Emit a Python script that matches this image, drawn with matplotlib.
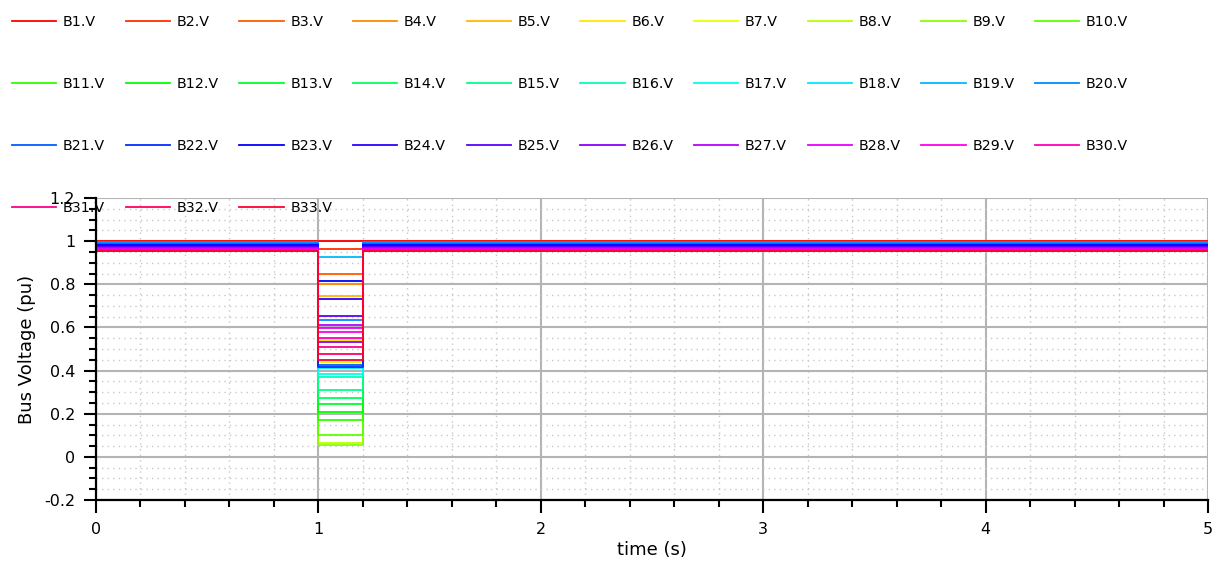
"""Bus voltages of the 33-bus feeder during a short fault (t = 1.0 .. 1.2 s)."""

import colorsys
import numpy as np
from matplotlib import pyplot as plt
from matplotlib.ticker import MultipleLocator, FormatStrFormatter

BUSES = [f"B{i}.V" for i in range(1, 34)]

# switching instants of the fault
T_START = 0.0
T_FAULT_ON = 1.0
T_FAULT_OFF = 1.2
T_END = 5.0

# steady-state voltage of each bus (pu), before and after the fault
V_PRE = [1.000, 0.998, 0.992, 0.988, 0.985, 0.975, 0.973, 0.970, 0.967, 0.964,
         0.963, 0.962, 0.960, 0.959, 0.958, 0.957, 0.956, 0.955, 0.997, 0.995,
         0.986, 0.984, 0.981, 0.978, 0.974, 0.970, 0.968, 0.962, 0.960, 0.958,
         0.956, 0.955, 0.953]

# voltage of each bus while the fault is applied (pu)
V_FAULT = [1.000, 0.963, 0.850, 0.802, 0.745, 0.540, 0.440, 0.065, 0.055, 0.102,
           0.169, 0.208, 0.246, 0.273, 0.308, 0.372, 0.385, 0.412, 0.927, 0.633,
           0.425, 0.418, 0.816, 0.730, 0.653, 0.533, 0.609, 0.599, 0.578, 0.552,
           0.509, 0.478, 0.447]

FONT = "DejaVu Sans"
GRID_MAJOR = "#b4b4b4"
GRID_MINOR = "#c8c8c8"


def bus_colors(n):
    """Hue wheel from red round to rose, one colour per bus."""
    return [colorsys.hsv_to_rgb(i / n, 1.0, 1.0) for i in range(n)]


def main():
    plt.rcParams["font.family"] = FONT
    fig = plt.figure(figsize=(12.17, 5.65), dpi=100)
    ax = fig.add_axes([96 / 1217, 1 - 500 / 565, 1112 / 1217, 302 / 565])

    t = np.array([T_START, T_FAULT_ON, T_FAULT_ON, T_FAULT_OFF, T_FAULT_OFF, T_END])
    colors = bus_colors(len(BUSES))
    handles = []
    for name, pre, flt, col in zip(BUSES, V_PRE, V_FAULT, colors):
        v = np.array([pre, pre, flt, flt, pre, pre])
        (h,) = ax.plot(t, v, color=col, lw=1.3, label=name)
        handles.append(h)

    ax.set_xlim(0, 5)
    ax.set_ylim(-0.2, 1.2)
    ax.xaxis.set_major_locator(MultipleLocator(1))
    ax.xaxis.set_minor_locator(MultipleLocator(0.2))
    ax.yaxis.set_major_locator(MultipleLocator(0.2))
    ax.yaxis.set_minor_locator(MultipleLocator(0.05))
    ax.xaxis.set_major_formatter(FormatStrFormatter("%g"))
    ax.yaxis.set_major_formatter(FormatStrFormatter("%g"))

    ax.grid(which="major", color=GRID_MAJOR, lw=1.5, ls="-")
    ax.grid(which="minor", color=GRID_MINOR, lw=1.0, ls=(0, (1, 3)))
    ax.set_axisbelow(True)

    for side in ("top", "right"):
        ax.spines[side].set_visible(False)
    for side in ("left", "bottom"):
        ax.spines[side].set_linewidth(1.6)

    ax.tick_params(which="major", direction="out", length=9, width=1.5,
                   labelsize=11.5, colors="black")
    ax.tick_params(which="minor", direction="out", length=5, width=1.5)
    ax.tick_params(axis="x", which="major", pad=7)
    ax.tick_params(axis="y", which="major", pad=6)

    ax.set_xlabel("time (s)", fontsize=13, labelpad=3)
    ax.set_ylabel("Bus Voltage (pu)", fontsize=13, labelpad=6)

    # legend reads row by row, matplotlib fills column by column
    ncol = 10
    order = [r * ncol + c for c in range(ncol) for r in range(4)
             if r * ncol + c < len(handles)]
    fig.legend([handles[i] for i in order], [BUSES[i] for i in order],
               loc="upper left", bbox_to_anchor=(12 / 1217, 1 - 15 / 565),
               ncol=ncol, frameon=False, fontsize=10.3, borderpad=0,
               borderaxespad=0, handlelength=3.1, handletextpad=0.45,
               columnspacing=1.45, labelspacing=3.35)

    fig.savefig("out.png", dpi=100)


if __name__ == "__main__":
    main()
